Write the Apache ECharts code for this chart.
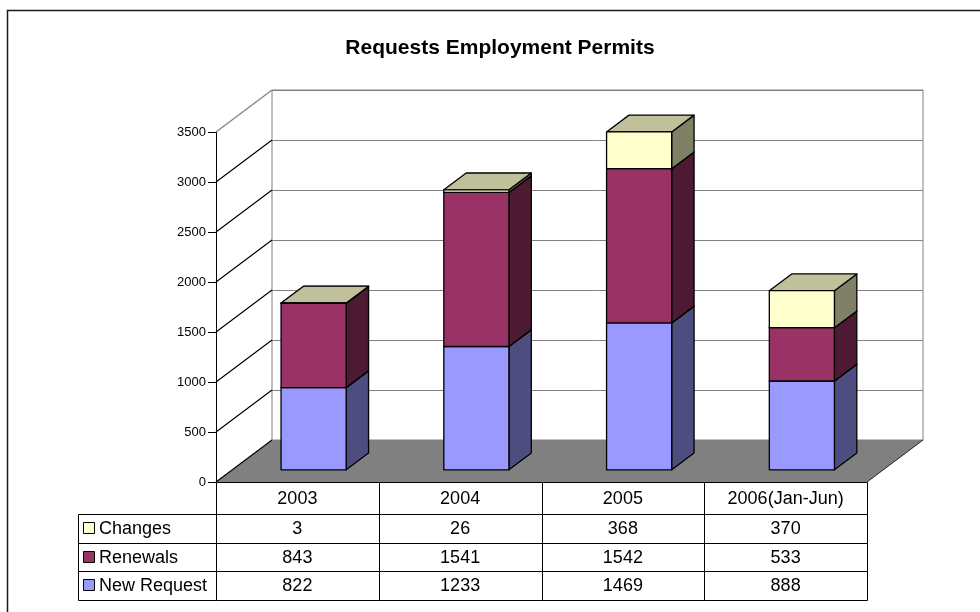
<!DOCTYPE html>
<html>
<head>
<meta charset="utf-8">
<script src="https://cdn.jsdelivr.net/npm/echarts@6/dist/echarts.min.js"></script>
<style>
  html, body { margin: 0; padding: 0; background: #fff; }
  #chart { width: 980px; height: 612px; }
</style>
</head>
<body>
<div id="chart"></div>
<script>
// ---- data ----
const categories = ['2003', '2004', '2005', '2006(Jan-Jun)'];
const newRequest = [822, 1233, 1469, 888];
const renewals   = [843, 1541, 1542, 533];
const changes    = [3, 26, 368, 370];
const seriesNames = ['New Request', 'Renewals', 'Changes'];
const yTickValues = [0, 500, 1000, 1500, 2000, 2500, 3000, 3500];
const chartTitle = 'Requests Employment Permits';

// ---- look ----
const FONT = '"Liberation Sans", Arial, sans-serif';
const FRONT = { left: 216, top: 132, width: 651, height: 350 };   // front plane of the box
const DEPTH = [56, -42];                                         // offset front -> back wall
const BAR_FRONT = 0.29;   // bar front face position inside the depth
const BAR_DEPTH = 0.40;   // bar thickness (fraction of depth)
const BAR_WIDTH = 0.40;   // fraction of category band
const COLORS = {
  'New Request': { front: '#9999FF', side: '#4D4D80', top: '#7373BF' },
  'Renewals':    { front: '#993366', side: '#4D1A33', top: '#732650' },
  'Changes':     { front: '#FFFFCC', side: '#808066', top: '#C0C09A' }
};
const TABLE = { headerH: 32, rowH: 28.5, legendLeft: 78 };

const values = { 'New Request': newRequest, 'Renewals': renewals, 'Changes': changes };
const yMax = yTickValues[yTickValues.length - 1];
const yStep = yTickValues[1] - yTickValues[0];

// stacked segments [category, low, high]
const segments = {};
const base = categories.map(() => 0);
seriesNames.forEach(name => {
  segments[name] = categories.map((c, i) => {
    const lo = base[i];
    base[i] += values[name][i];
    return [i, lo, base[i]];
  });
});

function h(v) { return Math.round(v) + 0.5; }

function renderBar(name) {
  const col = COLORS[name];
  return function (params, api) {
    const cat = api.value(0), lo = api.value(1), hi = api.value(2);
    const band = api.size([1, 0])[0];
    const p0 = api.coord([cat, lo]);
    const p1 = api.coord([cat, hi]);
    const w = band * BAR_WIDTH;
    const ox = DEPTH[0] * BAR_FRONT, oy = DEPTH[1] * BAR_FRONT;
    const dx = DEPTH[0] * BAR_DEPTH, dy = DEPTH[1] * BAR_DEPTH;
    const L = p0[0] - w / 2 + ox, R = L + w;
    const B = p0[1] + oy, T = p1[1] + oy;
    const edge = { stroke: '#000', lineWidth: 1.3, lineJoin: 'round' };
    return {
      type: 'group',
      children: [
        { type: 'polygon', shape: { points: [[R, B], [R + dx, B + dy], [R + dx, T + dy], [R, T]] },
          style: Object.assign({ fill: col.side }, edge) },
        { type: 'polygon', shape: { points: [[L, T], [R, T], [R + dx, T + dy], [L + dx, T + dy]] },
          style: Object.assign({ fill: col.top }, edge) },
        { type: 'rect', shape: { x: L, y: T, width: w, height: B - T },
          style: Object.assign({ fill: col.front }, edge) }
      ]
    };
  };
}

// floor of the box
function renderFloor(params, api) {
  const cs = params.coordSys;
  const y0 = api.coord([0, 0])[1];
  const x0 = cs.x, x1 = cs.x + cs.width;
  return {
    type: 'group',
    children: [
      { type: 'polygon',
        shape: { points: [[x0, y0], [x1, y0], [x1 + DEPTH[0], y0 + DEPTH[1]], [x0 + DEPTH[0], y0 + DEPTH[1]]] },
        style: { fill: '#808080' } },
      { type: 'line', shape: { x1: x1, y1: y0, x2: x1 + DEPTH[0], y2: y0 + DEPTH[1] },
        style: { stroke: '#222', lineWidth: 1 } }
    ]
  };
}

// side wall lines from the value axis back to the wall gridlines
function renderWallLine(params, api) {
  const cs = params.coordSys;
  const v = api.value(1);
  const y = api.coord([0, v])[1];
  const x = cs.x;
  return {
    type: 'line',
    shape: { x1: x, y1: y, x2: x + DEPTH[0], y2: y + DEPTH[1] },
    style: { stroke: v === yMax ? '#808080' : '#000', lineWidth: 1.2 }
  };
}

// data table under the plot, one column per category
function renderTableColumn(params, api) {
  const i = api.value(0);
  const band = api.size([1, 0])[0];
  const cx = api.coord([i, 0])[0];
  const top = api.coord([i, 0])[1];
  const left = cx - band / 2;
  const rows = ['Changes', 'Renewals', 'New Request'];
  const children = [];
  children.push({ type: 'rect', shape: { x: h(left), y: h(top), width: Math.round(band), height: TABLE.headerH },
    style: { fill: '#fff', stroke: '#000', lineWidth: 1 } });
  children.push({ type: 'text', style: { text: categories[i], x: cx, y: top + TABLE.headerH / 2 + 1,
    align: 'center', verticalAlign: 'middle', fontSize: 18, fontFamily: FONT, fill: '#000' } });
  rows.forEach((name, r) => {
    const y = top + TABLE.headerH + r * TABLE.rowH;
    children.push({ type: 'rect', shape: { x: h(left), y: h(y), width: Math.round(band), height: Math.round(TABLE.rowH) },
      style: { fill: '#fff', stroke: '#000', lineWidth: 1 } });
    children.push({ type: 'text', style: { text: String(values[name][i]), x: cx, y: y + TABLE.rowH / 2 + 1,
      align: 'center', verticalAlign: 'middle', fontSize: 18, fontFamily: FONT, fill: '#000' } });
  });
  return { type: 'group', children: children };
}

// legend column of the data table
const legendRows = ['Changes', 'Renewals', 'New Request'];
const legendGraphics = [];
const tableTop = FRONT.top + FRONT.height + TABLE.headerH;
legendRows.forEach((name, r) => {
  const y = tableTop + r * TABLE.rowH;
  legendGraphics.push({ type: 'rect', z: 10,
    shape: { x: h(TABLE.legendLeft), y: h(y), width: FRONT.left - Math.round(TABLE.legendLeft), height: Math.round(TABLE.rowH) },
    style: { fill: '#fff', stroke: '#000', lineWidth: 1 } });
  legendGraphics.push({ type: 'rect', z: 11,
    shape: { x: 83.5, y: h(y + TABLE.rowH / 2 - 6), width: 11, height: 11 },
    style: { fill: COLORS[name].front, stroke: '#000', lineWidth: 1 } });
  legendGraphics.push({ type: 'text', z: 11,
    style: { text: name, x: 99, y: y + TABLE.rowH / 2 + 1, align: 'left', verticalAlign: 'middle',
      fontSize: 18, fontFamily: FONT, fill: '#000' } });
});

const chart = echarts.init(document.getElementById('chart'), null, { renderer: 'canvas' });

const series = [
  { type: 'custom', name: 'floor', xAxisIndex: 1, yAxisIndex: 1, z: 1, clip: false, silent: true,
    data: [[0, 0]], renderItem: renderFloor },
  { type: 'custom', name: 'wall', xAxisIndex: 1, yAxisIndex: 1, z: 2, clip: false, silent: true,
    data: yTickValues.map(v => [0, v]), encode: { x: 0, y: 1 }, renderItem: renderWallLine }
];
seriesNames.forEach(name => {
  series.push({ type: 'custom', name: name, xAxisIndex: 1, yAxisIndex: 1, z: 3, clip: false,
    data: segments[name], encode: { x: 0, y: [1, 2] }, renderItem: renderBar(name) });
});
series.push({ type: 'custom', name: 'table', xAxisIndex: 1, yAxisIndex: 1, z: 10, clip: false, silent: true,
  data: categories.map((c, i) => [i, 0]), encode: { x: 0, y: 1 }, renderItem: renderTableColumn });

chart.setOption({
  animation: false,
  backgroundColor: '#fff',
  graphic: [
    { type: 'rect', z: 0, silent: true, shape: { x: 7.5, y: 10.5, width: 1000, height: 700 },
      style: { fill: 'none', stroke: '#1a1a1a', lineWidth: 1.5 } },
    { type: 'text', z: 20, style: { text: chartTitle, x: 500, y: 48, align: 'center', verticalAlign: 'middle',
      fontSize: 21, fontWeight: 'bold', fontFamily: FONT, fill: '#000' } }
  ].concat(legendGraphics),
  grid: [
    { // back wall
      left: FRONT.left + DEPTH[0], top: FRONT.top + DEPTH[1], width: FRONT.width, height: FRONT.height,
      show: true, backgroundColor: '#fff', borderColor: '#808080', borderWidth: 1, containLabel: false },
    { // front plane
      left: FRONT.left, top: FRONT.top, width: FRONT.width, height: FRONT.height, containLabel: false }
  ],
  xAxis: [
    { type: 'category', gridIndex: 0, data: categories, show: false },
    { type: 'category', gridIndex: 1, data: categories, show: false }
  ],
  yAxis: [
    { type: 'value', gridIndex: 0, min: 0, max: yMax, interval: yStep,
      axisLine: { show: false }, axisTick: { show: false }, axisLabel: { show: false },
      splitLine: { show: true, lineStyle: { color: '#808080', width: 1 } } },
    { type: 'value', gridIndex: 1, min: 0, max: yMax, interval: yStep,
      axisLine: { show: true, lineStyle: { color: '#000', width: 1 } },
      axisTick: { show: true, length: 8, inside: false, lineStyle: { color: '#000' } },
      axisLabel: { show: true, margin: 10, fontSize: 13, fontFamily: FONT, color: '#000',
        formatter: v => String(v) },
      splitLine: { show: false } }
  ],
  series: series
});
</script>
</body>
</html>
